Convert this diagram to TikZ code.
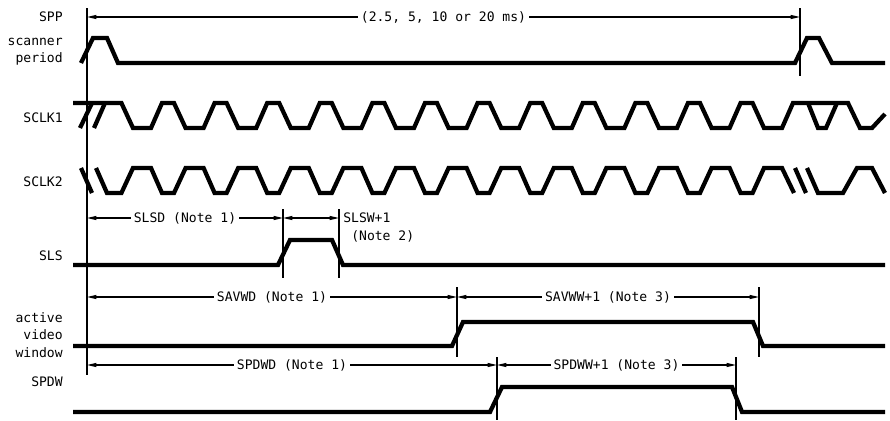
\documentclass[tikz,border=0pt]{standalone}
\usepackage{fontspec}
\setmonofont{DejaVu Sans Mono}
\usetikzlibrary{arrows.meta}
\begin{document}
\begin{tikzpicture}[x=0.75pt,y=-0.75pt,
  font=\ttfamily\fontsize{9.8}{13}\selectfont,
  sig/.style={line width=3.2pt, line join=miter},
  thinline/.style={line width=0.8pt},
  dim/.style={line width=0.8pt, {Triangle[length=7pt,width=3pt]}-{Triangle[length=7pt,width=3pt]}},
  lbl/.style={anchor=east, inner sep=0pt, align=right},
  dlbl/.style={fill=white, inner sep=2pt}]
\useasboundingbox (0,0) rectangle (890,421);

% signal labels
\node[lbl] (lspp) at (63,17) {SPP};
\node[lbl] (lscan) at (63,52) {scanner\\period};
\node[lbl] (lclk1) at (63,118) {SCLK1};
\node[lbl] (lclk2) at (63,182) {SCLK2};
\node[lbl] (lsls) at (63,256) {SLS};
\node[lbl] (lavw) at (63,335) {active\\video\\window};
\node[lbl] (lspdw) at (63,382) {SPDW};

% vertical reference lines
\draw[thinline] (87,8) -- (87,375);
\draw[thinline] (800,8) -- (800,76);
\draw[thinline] (283,209) -- (283,278);
\draw[thinline] (339,209) -- (339,278);
\draw[thinline] (457,287) -- (457,357);
\draw[thinline] (759,287) -- (759,357);
\draw[thinline] (497,357) -- (497,420);
\draw[thinline] (736,357) -- (736,420);

% dimension coordinates
\coordinate (sppL) at (87,17);   \coordinate (sppR) at (800,17);
\coordinate (slsdL) at (87,218); \coordinate (slsdR) at (283,218);
\coordinate (slswR) at (339,218);
\coordinate (savL) at (87,297);  \coordinate (savM) at (457,297); \coordinate (savR) at (759,297);
\coordinate (spdL) at (87,365);  \coordinate (spdM) at (497,365); \coordinate (spdR) at (736,365);

\draw[dim] (sppL) -- (sppR) node[midway,dlbl] {(2.5, 5, 10 or 20 ms)};
\draw[dim] (slsdL) -- (slsdR) node[midway,dlbl] {SLSD (Note 1)};
\draw[dim] (slsdR) -- (slswR);
\node[anchor=west, inner sep=0pt] (slswt) at (343,218) {SLSW+1};
\node[anchor=west, inner sep=0pt] (slswn) at (351,236) {(Note 2)};
\draw[dim] (savL) -- (savM) node[midway,dlbl] {SAVWD (Note 1)};
\draw[dim] (savM) -- (savR) node[midway,dlbl] {SAVWW+1 (Note 3)};
\draw[dim] (spdL) -- (spdM) node[midway,dlbl] {SPDWD (Note 1)};
\draw[dim] (spdM) -- (spdR) node[midway,dlbl] {SPDWW+1 (Note 3)};

% scanner period
\draw[sig] (81,63) -- (93,38) -- (107,38) -- (118,63) -- (795,63) -- (807,38) -- (819,38) -- (832,63) -- (885,63);

% SCLK1
\draw[sig] (80,128) -- (92,103);
\draw[sig] (94,128) -- (105,103);
\draw[sig] (73,103) -- (121.4,103)
  \foreach \k in {0,...,11} { -- ({133+\k*52.6},128) -- ({151+\k*52.6},128) -- ({162+\k*52.6},103) -- ({174+\k*52.6},103) }
  -- (764,128) -- (782,128) -- (793,103) -- (848,103) -- (860,128) -- (872,128) -- (885,114);
\draw[sig] (808,103) -- (818,128) -- (826,128) -- (837,103);

% SCLK2
\draw[sig] (81,168) -- (92,193);
\draw[sig] (96,168) -- (107,193) -- (121.4,193)
  \foreach \k in {0,...,11} { -- ({133+\k*52.6},168) -- ({151+\k*52.6},168) -- ({162+\k*52.6},193) -- ({174+\k*52.6},193) }
  -- (764,168) -- (782,168) -- (794,193);
\draw[sig] (795,168) -- (806,193);
\draw[sig] (807,168) -- (818,193) -- (843,193) -- (857,168) -- (872,168) -- (885,193);

% SLS
\draw[sig] (73,265) -- (278,265) -- (290,240) -- (332,240) -- (343,265) -- (885,265);

% active video window
\draw[sig] (73,346) -- (452,346) -- (463,322) -- (753,322) -- (763,346) -- (885,346);

% SPDW
\draw[sig] (73,412) -- (490,412) -- (502,387) -- (732,387) -- (742,412) -- (885,412);
\end{tikzpicture}
\end{document}
